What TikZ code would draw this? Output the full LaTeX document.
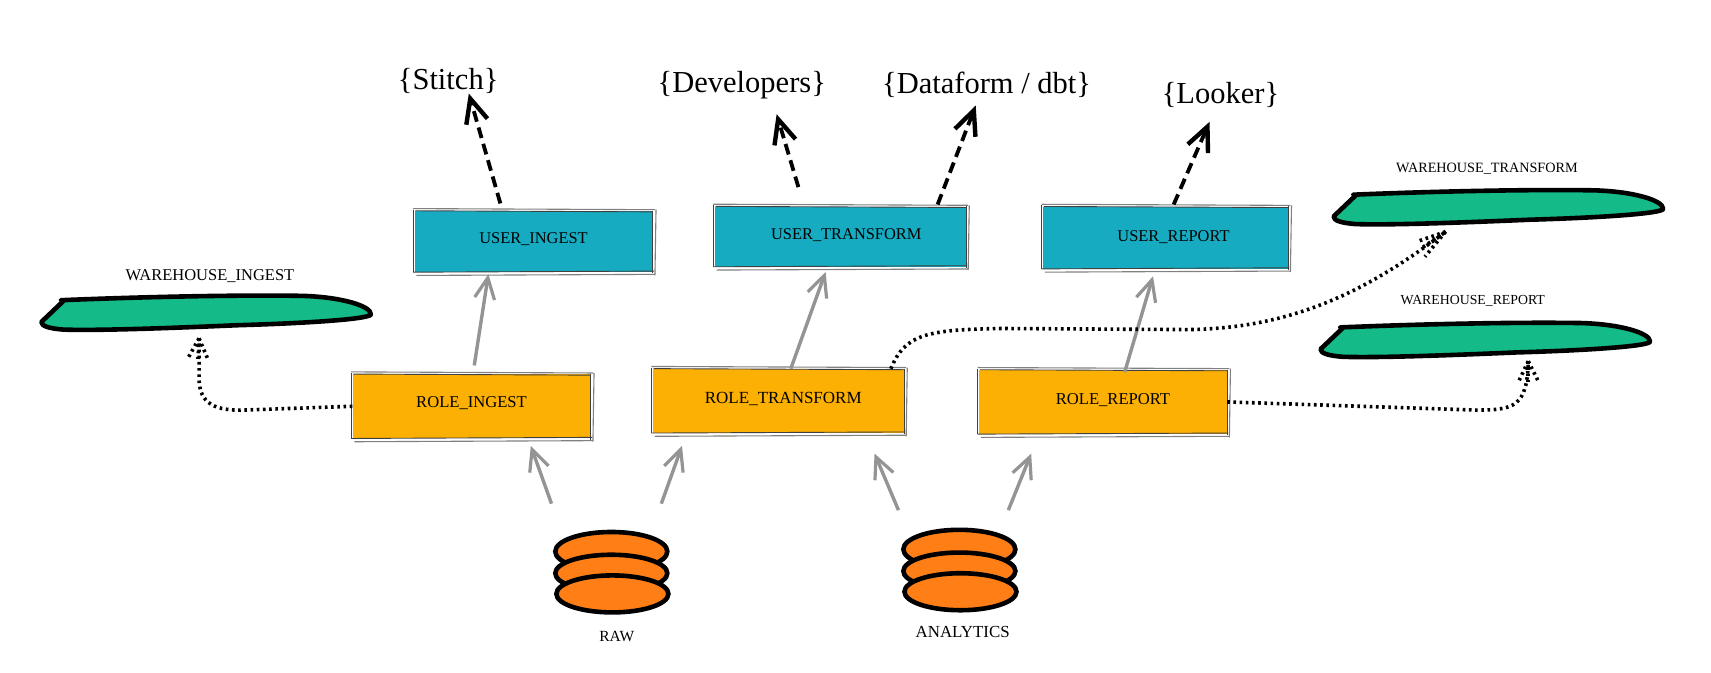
\documentclass[tikz,border=0pt]{standalone}
\usepackage{fontspec}
\setmainfont{Liberation Serif}
\usetikzlibrary{arrows.meta,calc,shapes.geometric}
\definecolor{teal1}{HTML}{16ABC1}
\definecolor{amber1}{HTML}{FCB003}
\definecolor{green1}{HTML}{14BA88}
\definecolor{orange1}{HTML}{FF7F16}
\newcommand{\boxtext}[3]{\hspace*{#1}\raisebox{#2}[10pt][3pt]{#3}}
\tikzset{
  blue box/.style={fill=teal1,inner sep=0pt,font=\fontsize{16.4}{18}\selectfont},
  role box/.style={fill=amber1,inner sep=0pt,font=\fontsize{16.6}{18}\selectfont},
  small label/.style={inner sep=0pt,font=\fontsize{16.5}{18}\selectfont},
  big label/.style={inner sep=0pt,font=\fontsize{30.5}{34}\selectfont},
  wh blob/.style={fill=green1,draw=black,line width=4.6pt,line join=round},
  disc/.style={ellipse,draw=black,fill=orange1,line width=4.6pt,inner sep=0pt},
  grey arrow/.style={draw=black!42,line width=3.4pt,-{Straight Barb[length=21pt,width=20pt,line width=3.2pt]}},
  dash arrow/.style={draw=black,line width=3.8pt,dash pattern=on 11pt off 6pt,-{Straight Barb[length=24pt,width=22pt,line width=4.4pt]}},
  dot line/.style={draw=black,line width=3.6pt,dash pattern=on 2.6pt off 3.6pt},
  sk dark/.style={draw=black!75,line width=.9pt},
  sk grey/.style={draw=black!50,line width=1.1pt},
}
\newcommand{\sketchbox}[1]{%
  \draw[sk grey] ($(#1.north west)+(-1,-2)$) -- ($(#1.north east)+(2,-1)$);
  \draw[sk dark] ($(#1.north west)+(1,0)$) -- ($(#1.north east)+(0,1)$);
  \draw[sk dark] ($(#1.north west)+(-1,-1)$) -- ($(#1.south west)+(-1,0)$);
  \draw[sk dark] ($(#1.south west)+(-1,0)$) -- ($(#1.south east)+(1,-1)$);
  \draw[sk grey] ($(#1.south west)+(2,3)$) -- ($(#1.south east)+(2,2)$);
  \draw[sk grey] ($(#1.north east)+(3,-1)$) -- ($(#1.south east)+(2,3)$);
  \draw[sk dark] ($(#1.north east)+(0,0)$) -- ($(#1.south east)+(0,1)$);
}
\newcommand{\whblob}[2]{%
  \draw[wh blob,shift={(#1,#2)}] (0,25) -- (20,6) -- (18,5) .. controls (90,2) and (180,0) .. (240,1)
    .. controls (275,2) and (303,10) .. (303,18) .. controls (303,22) and (250,26) .. (180,28)
    .. controls (110,31) and (50,33) .. (20,32) .. controls (8,31) and (0,29) .. (0,25) -- cycle;
}
\begin{document}
\begin{tikzpicture}[x=1.0875pt,y=-1.0875pt]
\useasboundingbox (-2,-2) rectangle (1571,616);
\fill[white] (-2,-2) rectangle (1571,616);

% warehouses
\whblob{36}{269}
\whblob{1224}{172}
\whblob{1212}{294}
\node[small label] (lwi) at (191,252) {WAREHOUSE\_INGEST};
\node[small label,font=\fontsize{14.2}{18}\selectfont] (lwt) at (1365,153) {WAREHOUSE\_TRANSFORM};
\node[small label,font=\fontsize{13.8}{18}\selectfont] (lwr) at (1352,275) {WAREHOUSE\_REPORT};

% boxes
\node[blue box,minimum width=238pt,minimum height=61pt] (ui) at (488.5,220) {\boxtext{0pt}{1pt}{USER\_INGEST}};
\node[blue box,minimum width=251pt,minimum height=60pt] (ut) at (770.5,215.5) {\boxtext{12pt}{1pt}{USER\_TRANSFORM}};
\node[blue box,minimum width=245pt,minimum height=62pt] (ur) at (1069.5,216.5) {\boxtext{16pt}{0pt}{USER\_REPORT}};
\node[role box,minimum width=238pt,minimum height=64pt] (ri) at (431.5,371.5) {\boxtext{0pt}{2pt}{ROLE\_INGEST}};
\node[role box,minimum width=251pt,minimum height=64pt,font=\fontsize{17}{18}\selectfont] (rt) at (713.5,366.5) {\boxtext{10pt}{1pt}{ROLE\_TRANSFORM}};
\node[role box,minimum width=248pt,minimum height=64pt] (rr) at (1012,367.5) {\boxtext{20pt}{1pt}{ROLE\_REPORT}};
\sketchbox{ui}\sketchbox{ut}\sketchbox{ur}\sketchbox{ri}\sketchbox{rt}\sketchbox{rr}

% top labels
\node[big label] (stitch) at (410,72) {\{Stitch\}};
\node[big label] (dev) at (680,76) {\{Developers\}};
\node[big label] (dbt) at (905,76) {\{Dataform / dbt\}};
\node[big label] (looker) at (1120,85) {\{Looker\}};

% databases
\node[disc,minimum width=112pt,minimum height=39pt] (ra) at (560,505) {};
\node[disc,minimum width=112pt,minimum height=37pt] (rb) at (560,525) {};
\node[disc,minimum width=112pt,minimum height=37pt] (rc) at (561,544) {};
\node[small label,font=\fontsize{15.5}{18}\selectfont] (raw) at (565,583) {RAW};
\node[disc,minimum width=112pt,minimum height=39pt] (aa) at (880,503) {};
\node[disc,minimum width=112pt,minimum height=37pt] (ab) at (880,523) {};
\node[disc,minimum width=112pt,minimum height=37pt] (ac) at (881,542) {};
\node[small label,font=\fontsize{16.9}{18}\selectfont] (ana) at (883,579) {ANALYTICS};

% free ends of connectors
\coordinate (s1) at (458,185); \coordinate (t1) at (429,84);
\coordinate (s2) at (732,170); \coordinate (t2) at (712,103);
\coordinate (s3) at (860,186); \coordinate (t3) at (895,95);
\coordinate (s4) at (1077,186); \coordinate (t4) at (1110,110);
\draw[dash arrow] (s1) -- (t1);
\draw[dash arrow] (s2) -- (t2);
\draw[dash arrow] (s3) -- (t3);
\draw[dash arrow] (s4) -- (t4);

\coordinate (g1) at (434,334); \coordinate (h1) at (447,250);
\coordinate (g2) at (725,337); \coordinate (h2) at (757,248);
\coordinate (g3) at (1032,340); \coordinate (h3) at (1058,252);
\coordinate (g4) at (505,461); \coordinate (h4) at (486,408);
\coordinate (g5) at (606,461); \coordinate (h5) at (625,408);
\coordinate (g6) at (824,467); \coordinate (h6) at (802,415);
\coordinate (g7) at (925,467); \coordinate (h7) at (946,415);
\foreach \i in {1,...,7} {\draw[grey arrow] (g\i) -- (h\i);}

% dotted connectors with dotted heads
\coordinate (p1) at (181,309);
\draw[dot line] (ri.west) -- (222,375) .. controls (190,376) and (181,365) .. (181,345) -- (p1);
\draw[dot line] (p1) -- (171,327); \draw[dot line] (p1) -- (189,328); \draw[dot line] (p1) -- (180,328);
\coordinate (p2) at (1327,211);
\draw[dot line] (817,337) .. controls (830,305) and (850,301) .. (920,300) -- (1090,301) .. controls (1190,300) and (1260,262) .. (p2);
\draw[dot line] (p2) -- (1301,220); \draw[dot line] (p2) -- (1308,234); \draw[dot line] (p2) -- (1305,226);
\coordinate (p3) at (1403,330);
\draw[dot line] (rr.east) -- (1355,375) .. controls (1390,375) and (1402,372) .. (p3);
\draw[dot line] (p3) -- (1394,349); \draw[dot line] (p3) -- (1412,348); \draw[dot line] (p3) -- (1403,350);
\end{tikzpicture}
\end{document}
